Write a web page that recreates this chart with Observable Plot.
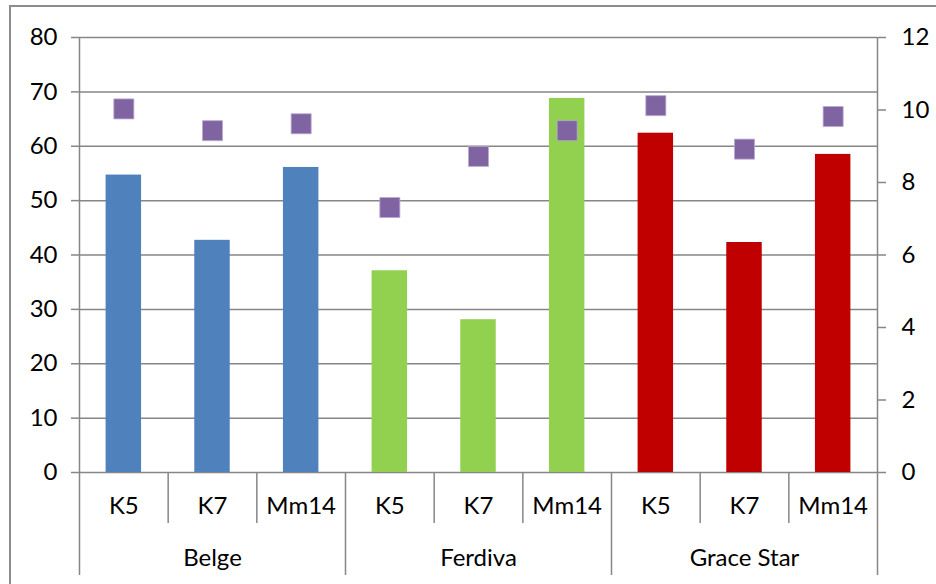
<!DOCTYPE html>
<html>
<head>
<meta charset="utf-8">
<script src="https://cdn.jsdelivr.net/npm/d3@7"></script>
<script src="https://cdn.jsdelivr.net/npm/@observablehq/plot@0.6"></script>
<style>
  html, body { margin: 0; padding: 0; background: #fff; }
  #wrap { position: relative; width: 936px; height: 584px; overflow: hidden; }
  #border { position: absolute; left: 9px; top: 5px; width: 960px; height: 620px; border: 2px solid #8c8c8c; box-sizing: border-box; }
  #chart { position: absolute; left: 0; top: 0; }
</style>
</head>
<body>
<div id="wrap"><div id="border"></div><div id="chart"></div></div>
<script>
const groups = ["Belge", "Ferdiva", "Grace Star"];
const treatments = ["K5", "K7", "Mm14"];
const barValues = [54.7, 42.7, 56.1, 37.1, 28.1, 68.8, 62.4, 42.3, 58.5];
const squareValues = [10.03, 9.43, 9.62, 7.31, 8.72, 9.43, 10.12, 8.92, 9.82];
const groupColors = ["#4F81BD", "#92D050", "#C00000"];
const leftTicks = [0, 10, 20, 30, 40, 50, 60, 70, 80];
const rightTicks = [0, 2, 4, 6, 8, 10, 12];

const leftMax = 80, rightMax = 12;
const toLeft = v => v * leftMax / rightMax;

const rows = [];
groups.forEach((g, gi) => treatments.forEach((t, ti) => {
  const i = gi * treatments.length + ti;
  rows.push({i, group: g, treatment: t, value: barValues[i], square: squareValues[i], color: groupColors[gi]});
}));
const groupRows = groups.map((g, gi) => ({group: g, mid: gi * treatments.length + treatments.length / 2}));
const n = rows.length;
const allBounds = d3.range(0, n + 1);
const edgeBounds = [0, n];
const groupBounds = allBounds.filter(b => b % treatments.length === 0 && b !== 0 && b !== n);
const subBounds = allBounds.filter(b => b % treatments.length !== 0);

const grid = "#868686";
const font = "Lato";

const chart = Plot.plot({
  width: 936,
  height: 584,
  marginLeft: 79,
  marginRight: 59,
  marginTop: 37,
  marginBottom: 112,
  style: {fontFamily: font, fontSize: "24px", background: "transparent", color: "black"},
  x: {type: "linear", domain: [0, n], axis: null},
  y: {domain: [0, leftMax], axis: null},
  marks: [
    Plot.ruleY(leftTicks, {stroke: grid, strokeWidth: 1.5}),
    Plot.rectY(rows, {x1: d => d.i + 0.3, x2: d => d.i + 0.7, y1: 0, y2: "value", fill: "color"}),
    Plot.dot(rows, {x: d => d.i + 0.5, y: d => toLeft(d.square), symbol: "square", r: 11.3, fill: "#8064A2", stroke: "#b9a9cf", strokeWidth: 0.8}),
    Plot.ruleX(edgeBounds, {x: d => d, stroke: grid, strokeWidth: 1.5, insetBottom: -103}),
    Plot.ruleX(groupBounds, {x: d => d, y1: 0, y2: 0, stroke: grid, strokeWidth: 1.5, insetBottom: -103}),
    Plot.ruleX(subBounds, {x: d => d, y1: 0, y2: 0, stroke: grid, strokeWidth: 1.5, insetBottom: -51}),
    Plot.axisY({anchor: "left", ticks: leftTicks, tickSize: 8, tickPadding: 14, stroke: grid, strokeWidth: 1.5, fill: "black", fontSize: 24, label: null}),
    Plot.axisY({anchor: "right", ticks: rightTicks.map(toLeft), tickFormat: d => String(Math.round(d * rightMax / leftMax)), tickSize: 8, tickPadding: 16, stroke: grid, strokeWidth: 1.5, fill: "black", fontSize: 24, label: null}),
    Plot.text(rows, {x: d => d.i + 0.5, y: 0, text: "treatment", dy: 34, fontSize: 24, fill: "black"}),
    Plot.text(groupRows, {x: "mid", y: 0, text: "group", dy: 86, fontSize: 24, fill: "black"})
  ]
});
document.getElementById("chart").appendChild(chart);
</script>
</body>
</html>
